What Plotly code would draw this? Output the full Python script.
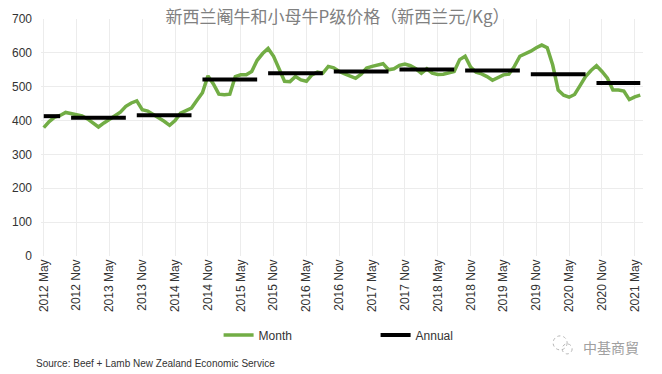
import pandas as pd
import plotly.graph_objects as go

# Monthly prices (NZ$/kg), May 2012 .. Jun 2021
month_values = [
    379, 397, 410, 415, 424, 420, 416, 414, 405, 393,
    381, 393, 403, 413, 425, 442, 452, 458, 432, 428,
    418, 410, 398, 386, 400, 422, 430, 437, 460, 482,
    532, 508, 478, 476, 478, 530, 535, 535, 545, 578,
    598, 613, 590, 556, 516, 515, 530, 520, 516, 535,
    543, 540, 560, 556, 545, 538, 532, 525, 537, 555,
    560, 563, 568, 550, 553, 563, 567, 562, 553, 540,
    553, 540, 536, 537, 540, 545, 580, 590, 558, 543,
    538, 530, 519, 528, 535, 537, 560, 590, 597, 605,
    615, 623, 615, 564, 490, 475, 469, 477, 503, 530,
    548, 562, 545, 525, 490, 490, 487, 462, 470, 475,
]

# Annual averages: (first month index, last month index, value)
annual_starts = [0, 5, 17, 29, 41, 53, 65, 77, 89, 101]
annual_ends = [3, 15, 27, 39, 51, 63, 75, 87, 99, 109]
annual_values = [413, 408, 416, 521, 540, 545, 551, 548, 537, 511]

months = pd.date_range("2012-05-01", periods=len(month_values), freq="MS")
categories = [d.strftime("%Y %b") for d in months]
tick_labels = categories[::6]

annual_series = [None] * len(categories)
for s, e, v in zip(annual_starts, annual_ends, annual_values):
    for i in range(s, e + 1):
        annual_series[i] = v

GREEN = "#72ad45"

fig = go.Figure()
fig.add_trace(go.Scatter(
    x=categories, y=month_values, mode="lines", name="Month",
    line=dict(color=GREEN, width=3.5),
))
fig.add_trace(go.Scatter(
    x=categories, y=annual_series, mode="lines", name="Annual",
    line=dict(color="#000000", width=4), connectgaps=False,
))

fig.update_layout(
    width=662, height=374,
    margin=dict(l=40, r=19, t=17, b=118),
    paper_bgcolor="white", plot_bgcolor="white",
    font=dict(family="Liberation Sans, Arial, sans-serif", size=12, color="#333333"),
    showlegend=True,
    legend=dict(
        orientation="h", x=0.295, xanchor="left", y=-0.272, yanchor="top",
        entrywidth=112, font=dict(size=12, color="#333333"),
        itemwidth=30, bgcolor="rgba(0,0,0,0)",
    ),
    title=dict(
        text="新西兰阉牛和小母牛P级价格（新西兰元/Kg）",
        x=0.51, xanchor="center", y=0.955, yanchor="middle",
        font=dict(family="Noto Sans CJK SC", size=17, color="#808080"),
    ),
)

fig.update_xaxes(
    type="category",
    tickmode="array", tickvals=tick_labels, ticktext=tick_labels,
    tickangle=-90, showgrid=True, gridcolor="#ececec", gridwidth=1,
    showline=False, zeroline=False, ticks="",
    range=[-0.5, len(categories) - 0.5],
    tickfont=dict(size=12, color="#333333"),
)
fig.update_yaxes(
    range=[0, 700], dtick=100, showgrid=True, gridcolor="#ececec", gridwidth=1,
    showline=False, zeroline=False, ticks="",
    ticklabelstandoff=8,
    tickfont=dict(size=12, color="#333333"),
)

fig.add_annotation(
    text="Source: Beef + Lamb New Zealand Economic Service",
    xref="paper", yref="paper", x=-0.012, y=-0.455, xanchor="left", yanchor="middle",
    showarrow=False, font=dict(size=10, color="#333333"),
)
fig.add_annotation(
    text="中基商貿",
    xref="paper", yref="paper", x=0.997, y=-0.385, xanchor="right", yanchor="middle",
    showarrow=False, font=dict(family="Noto Sans CJK TC", size=14, color="#a0a0a0"),
)
# small WeChat-style logo next to the watermark
logo_x = (563 - 40) / 603
for cx, cy, r in [(-3, 2, 7), (4, -4, 5)]:
    fig.add_shape(
        type="circle", xref="paper", yref="paper",
        xsizemode="pixel", ysizemode="pixel",
        xanchor=logo_x, yanchor=-0.375,
        x0=cx - r, x1=cx + r, y0=cy - r, y1=cy + r,
        line=dict(color="#b5b5b5", width=1, dash="dot"),
    )

fig.write_html(
    "out.html",
    config={"displayModeBar": False},
    post_script="document.body.style.margin='0';",
)
